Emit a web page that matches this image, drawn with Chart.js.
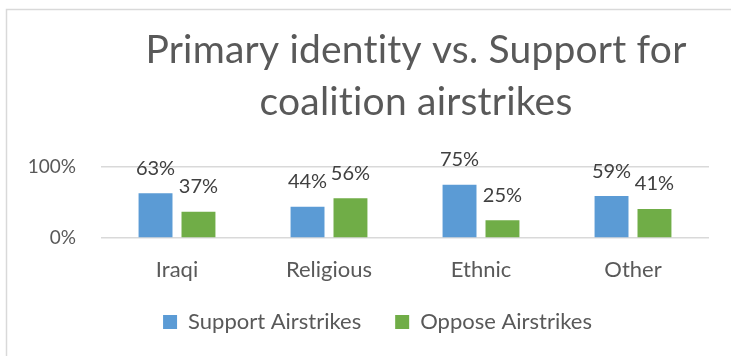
<!DOCTYPE html>
<html>
<head>
<meta charset="utf-8">
<script src="https://cdn.jsdelivr.net/npm/chart.js@4"></script>
<style>
  html, body { margin: 0; padding: 0; background: #fff; }
  #wrap { width: 731px; height: 356px; }
</style>
</head>
<body>
<div id="wrap"><canvas id="chart" width="731" height="356"></canvas></div>
<script>
// Datos del gráfico
const categorias = ['Iraqi', 'Religious', 'Ethnic', 'Other'];
const apoyo = [0.63, 0.44, 0.75, 0.59];
const oposicion = [0.37, 0.56, 0.25, 0.41];
const seriesNombres = ['Support Airstrikes', 'Oppose Airstrikes'];
const tituloLineas = ['Primary identity vs. Support for', 'coalition airstrikes'];

const fuente = 'Lato, "Open Sans", sans-serif';

// Marco, título y ajuste de la leyenda
const marcoTitulo = {
    id: 'marcoTitulo',
    afterLayout(chart) {
        // la leyenda del original está algo desplazada
        chart.legend.left += 23;
        chart.legend.right += 23;
        chart.legend.top -= 7;
        chart.legend.bottom -= 7;
    },
    beforeDraw(chart) {
        const ctx = chart.ctx;
        ctx.save();
        ctx.strokeStyle = '#d9d9d9';
        ctx.lineWidth = 1.5;
        ctx.strokeRect(6.5, 9.5, 760, 380);
        ctx.fillStyle = '#595959';
        ctx.font = '39px ' + fuente;
        ctx.letterSpacing = '0.2px';
        ctx.textAlign = 'center';
        ctx.textBaseline = 'alphabetic';
        ctx.fillText(tituloLineas[0], 416, 63);
        ctx.fillText(tituloLineas[1], 416, 115);
        ctx.restore();
    }
};

// Etiquetas de valores sobre las barras
const etiquetas = {
    id: 'etiquetas',
    afterDatasetsDraw(chart) {
        const ctx = chart.ctx;
        ctx.save();
        ctx.fillStyle = '#404040';
        ctx.font = '20px ' + fuente;
        ctx.textAlign = 'center';
        ctx.textBaseline = 'middle';
        chart.data.datasets.forEach((ds, i) => {
            chart.getDatasetMeta(i).data.forEach((bar, j) => {
                ctx.fillText(Math.round(ds.data[j] * 100) + '%', bar.x, bar.y - 25);
            });
        });
        ctx.restore();
    }
};

new Chart(document.getElementById('chart').getContext('2d'), {
    type: 'bar',
    data: {
        labels: categorias,
        datasets: [
            {
                label: seriesNombres[0],
                data: apoyo,
                backgroundColor: '#5b9bd5',
                barPercentage: 0.79,
                categoryPercentage: 0.565
            },
            {
                label: seriesNombres[1],
                data: oposicion,
                backgroundColor: '#70ad47',
                barPercentage: 0.79,
                categoryPercentage: 0.565
            }
        ]
    },
    options: {
        responsive: false,
        animation: false,
        layout: { padding: { top: 167, left: 0, right: 22, bottom: 6 } },
        scales: {
            y: {
                min: 0,
                max: 1,
                ticks: {
                    stepSize: 1,
                    color: '#595959',
                    font: { family: fuente, size: 19 },
                    padding: 25,
                    callback: v => Math.round(v * 100) + '%'
                },
                grid: { color: '#d9d9d9', lineWidth: 1.5, drawTicks: false },
                border: { display: false },
                afterFit: scale => { scale.width = 101; }
            },
            x: {
                ticks: {
                    color: '#595959',
                    font: { family: fuente, size: 22 },
                    padding: 19
                },
                grid: { display: false, drawTicks: false },
                border: { display: false },
                afterFit: scale => { scale.height = 46; }
            }
        },
        plugins: {
            legend: {
                position: 'bottom',
                labels: {
                    boxWidth: 14,
                    boxHeight: 14,
                    padding: 34,
                    color: '#595959',
                    font: { family: fuente, size: 22 }
                }
            },
            tooltip: { enabled: false }
        }
    },
    plugins: [marcoTitulo, etiquetas]
});
</script>
</body>
</html>
